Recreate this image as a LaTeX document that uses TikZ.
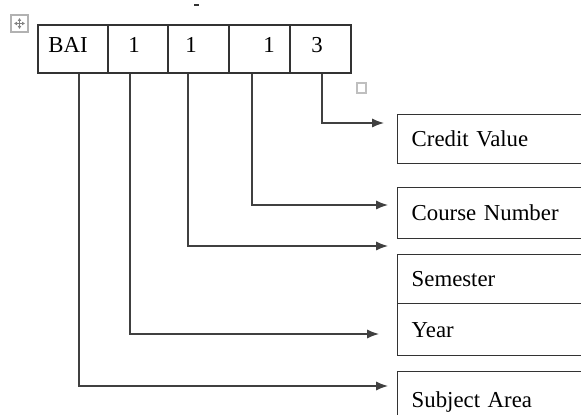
\documentclass[tikz,border=0pt]{standalone}
\usepackage{fontspec}
\setmainfont{Liberation Serif}
\usetikzlibrary{arrows.meta}

\tikzset{
    cell/.style={draw=black!80, line width=0.7pt, minimum height=24pt, inner sep=0pt},
    fieldbox/.style={draw=black!80, line width=0.7pt, anchor=north west,
        minimum height=#1, text width=110pt, inner xsep=7pt, inner ysep=0pt, align=left},
    conn/.style={draw=black!75, line width=0.7pt, -{Latex[length=6pt,width=4.6pt]}},
}

\begin{document}
\begin{tikzpicture}[x=0.5pt, y=-0.5pt, font=\fontsize{11.4}{13}\selectfont]

    \useasboundingbox (0,0) rectangle (581,415);
    \clip (0,0) rectangle (581,415);

    % Editor marks
    \draw[gray!60, line width=0.6pt] (11,15) rectangle (28,32);
    \draw[gray, line width=0.4pt, {Latex[length=1.5pt,width=2pt]}-{Latex[length=1.5pt,width=2pt]}] (14,23.5) -- (25,23.5);
    \draw[gray, line width=0.4pt, {Latex[length=1.5pt,width=2pt]}-{Latex[length=1.5pt,width=2pt]}] (19.5,18) -- (19.5,29);
    \draw[gray!50, line width=0.8pt] (357,83) rectangle (366,93);
    \draw[black!80, line width=1pt] (194,5) -- (199,5);

    % Code cells
    \node[cell, minimum width=35pt] (cSub) at (73,49) {};
    \node[cell, minimum width=30pt] (cYr) at (138,49) {};
    \node[cell, minimum width=30.5pt] (cSem) at (198.5,49) {};
    \node[cell, minimum width=30.5pt] (cCrs) at (259.5,49) {};
    \node[cell, minimum width=30.5pt] (cCrd) at (320.5,49) {};

    % Cell texts
    \node[anchor=base west, inner sep=0pt] (tSub) at (48,53) {BAI};
    \node[anchor=base, inner sep=0pt] (tYr) at (134,53) {1};
    \node[anchor=base, inner sep=0pt] (tSem) at (191,53) {1};
    \node[anchor=base, inner sep=0pt] (tCrs) at (269,53) {1};
    \node[anchor=base, inner sep=0pt] (tCrd) at (317,53) {3};

    % Field boxes
    \node[fieldbox=24.5pt] (bCrd) at (397,114) {Credit Value};
    \node[fieldbox=25.5pt] (bCrs) at (397,187) {Course Number};
    \node[fieldbox=24.5pt] (bSem) at (397,254) {Semester};
    \node[fieldbox=26pt] (bYr) at (397,303) {Year};
    \node[fieldbox=30pt] (bSub) at (397,371) {Subject Area};

    % Arrow ends
    \coordinate (eCrd) at (384,123);
    \coordinate (eCrs) at (388,205);
    \coordinate (eSem) at (388,246);
    \coordinate (eYr) at (379,334);
    \coordinate (eSub) at (388,386);

    % Connectors
    \draw[conn] ([xshift=0.75pt]cCrd.south) |- (eCrd);
    \draw[conn] ([xshift=-3.75pt]cCrs.south) |- (eCrs);
    \draw[conn] ([xshift=-5.25pt]cSem.south) |- (eSem);
    \draw[conn] ([xshift=-4pt]cYr.south) |- (eYr);
    \draw[conn] ([xshift=3pt]cSub.south) |- (eSub);

\end{tikzpicture}
\end{document}
